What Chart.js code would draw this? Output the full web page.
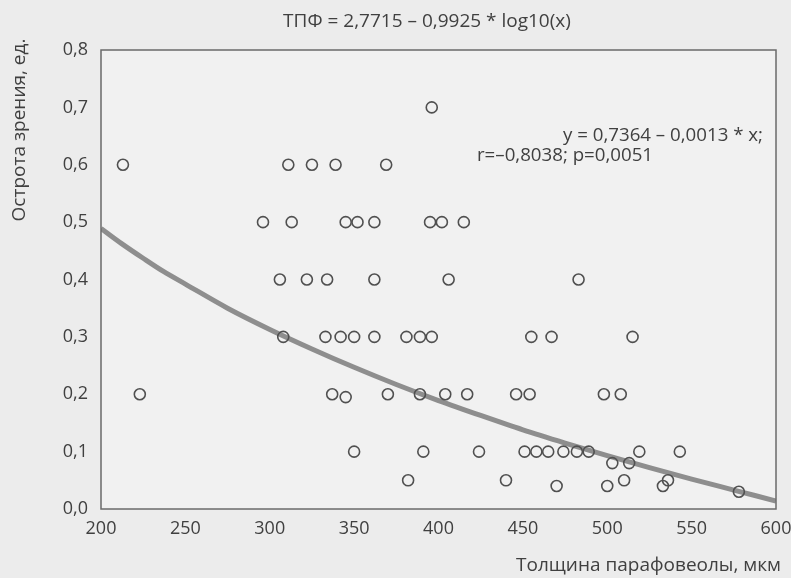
<!DOCTYPE html>
<html>
<head>
<meta charset="utf-8">
<script src="https://cdn.jsdelivr.net/npm/chart.js@4/dist/chart.umd.min.js"></script>
<style>
  html, body { margin: 0; padding: 0; background: #ececec; }
  #wrap { width: 791px; height: 578px; position: relative; }
</style>
</head>
<body>
<div id="wrap"><canvas id="c" width="791" height="578"></canvas></div>
<script>
// ---- data ----
const pointX = [
  396,
  213, 311, 325, 339, 369,
  296, 313, 345, 352, 362, 395, 402, 415,
  306, 322, 334, 362, 406, 483,
  308, 333, 342, 350, 362, 381, 389, 396, 455, 467, 515,
  223, 337, 345, 370, 389, 404, 417, 446, 454, 498, 508,
  350, 391, 424, 451, 458, 465, 474, 482, 489, 519, 543,
  503, 513,
  382, 440, 510, 536,
  470, 500, 533,
  578
];
const pointY = [
  0.70,
  0.60, 0.60, 0.60, 0.60, 0.60,
  0.50, 0.50, 0.50, 0.50, 0.50, 0.50, 0.50, 0.50,
  0.40, 0.40, 0.40, 0.40, 0.40, 0.40,
  0.30, 0.30, 0.30, 0.30, 0.30, 0.30, 0.30, 0.30, 0.30, 0.30, 0.30,
  0.20, 0.20, 0.195, 0.20, 0.20, 0.20, 0.20, 0.20, 0.20, 0.20, 0.20,
  0.10, 0.10, 0.10, 0.10, 0.10, 0.10, 0.10, 0.10, 0.10, 0.10, 0.10,
  0.08, 0.08,
  0.05, 0.05, 0.05, 0.05,
  0.04, 0.04, 0.04,
  0.03
];
const curveX = [200, 212, 225, 237, 250, 275, 300, 325, 350, 375, 400, 425, 450, 475, 500, 525, 550, 575, 600];
const curveY = [0.489, 0.463, 0.437, 0.414, 0.392, 0.350, 0.313, 0.279, 0.247, 0.217, 0.189, 0.163, 0.138, 0.115, 0.093, 0.072, 0.052, 0.033, 0.014];
const xTickLabels = ['200', '250', '300', '350', '400', '450', '500', '550', '600'];
const yTickLabels = ['0,0', '0,1', '0,2', '0,3', '0,4', '0,5', '0,6', '0,7', '0,8'];
const titleText = 'ТПФ = 2,7715 – 0,9925 * log10(x)';
const xTitle = 'Толщина парафовеолы, мкм';
const yTitle = 'Острота зрения, ед.';
const noteLine1 = 'y = 0,7364 – 0,0013 * x;';
const noteLine2 = 'r=–0,8038; p=0,0051';

const FONT = '"Open Sans", "Noto Sans", sans-serif';
const TXT = '#404040';

const scatterData = pointX.map((x, i) => ({ x: x, y: pointY[i] }));
const curveData = curveX.map((x, i) => ({ x: x, y: curveY[i] }));

const decor = {
  id: 'decor',
  beforeDraw(chart) {
    const ctx = chart.ctx;
    ctx.save();
    ctx.fillStyle = '#ececec';
    ctx.fillRect(0, 0, chart.width, chart.height);
    const a = chart.chartArea;
    ctx.fillStyle = '#f1f1f1';
    ctx.fillRect(a.left, a.top, a.right - a.left, a.bottom - a.top);
    ctx.restore();
  },
  afterDraw(chart) {
    const ctx = chart.ctx;
    const a = chart.chartArea;
    ctx.save();
    ctx.strokeStyle = '#6a6a6a';
    ctx.lineWidth = 1.5;
    ctx.strokeRect(a.left, a.top, a.right - a.left, a.bottom - a.top);
    ctx.fillStyle = TXT;
    ctx.textBaseline = 'middle';
    ctx.font = '19px ' + FONT;
    ctx.textAlign = 'center';
    ctx.fillText(titleText, 427, 22);
    ctx.font = '18.7px ' + FONT;
    ctx.fillText(noteLine1, 663, 136);
    ctx.fillText(noteLine2, 565, 156);
    ctx.font = '19px ' + FONT;
    ctx.textAlign = 'right';
    ctx.fillText(xTitle, 781, 566);
    ctx.translate(20, 130);
    ctx.rotate(-Math.PI / 2);
    ctx.textAlign = 'center';
    ctx.fillText(yTitle, 0, 0);
    ctx.restore();
  }
};

new Chart(document.getElementById('c'), {
  type: 'scatter',
  data: {
    datasets: [
      {
        type: 'line',
        label: 'fit',
        data: curveData,
        borderColor: '#8e8e8e',
        borderWidth: 5,
        pointRadius: 0,
        fill: false,
        cubicInterpolationMode: 'monotone',
        order: 2
      },
      {
        label: 'points',
        data: scatterData,
        pointStyle: 'circle',
        pointRadius: 5.5,
        pointBorderWidth: 1.6,
        pointBackgroundColor: 'rgba(0,0,0,0)',
        pointBorderColor: '#505050',
        borderColor: '#505050',
        backgroundColor: 'rgba(0,0,0,0)',
        order: 1
      }
    ]
  },
  options: {
    responsive: false,
    animation: false,
    devicePixelRatio: 1,
    layout: { padding: { left: 0, right: 15, top: 50, bottom: 0 } },
    plugins: {
      legend: { display: false },
      tooltip: { enabled: false },
      title: { display: false }
    },
    scales: {
      x: {
        type: 'linear',
        min: 200, max: 600,
        grid: { display: false, drawTicks: false },
        border: { display: false },
        afterFit: s => { s.height = 69; s.paddingLeft = 0; s.paddingRight = 0; },
        afterBuildTicks: s => { s.ticks = xTickLabels.map(t => ({ value: Number(t) })); },
        ticks: {
          padding: 9,
          color: TXT,
          font: { family: FONT, size: 18 },
          callback: (v, i) => xTickLabels[i]
        }
      },
      y: {
        type: 'linear',
        min: 0, max: 0.8,
        grid: { display: false, drawTicks: false },
        border: { display: false },
        afterFit: s => { s.width = 101; s.paddingTop = 0; s.paddingBottom = 0; },
        afterBuildTicks: s => { s.ticks = yTickLabels.map(t => ({ value: Number(t.replace(',', '.')) })); },
        ticks: {
          padding: 13,
          color: TXT,
          font: { family: FONT, size: 18 },
          callback: (v, i) => yTickLabels[i]
        }
      }
    }
  },
  plugins: [decor]
});
</script>
</body>
</html>
